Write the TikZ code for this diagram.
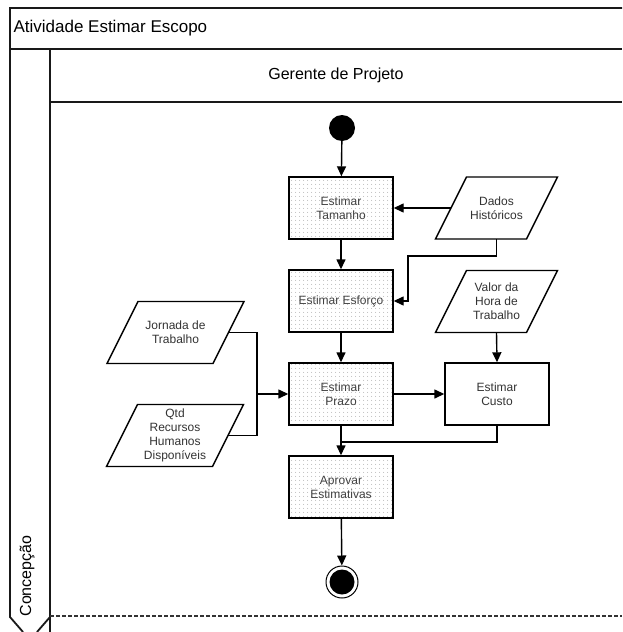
\documentclass[tikz,border=0pt]{standalone}
\usepackage{fontspec}
\setmainfont{Liberation Sans}
\usetikzlibrary{arrows.meta,patterns.meta}
\newcommand\iobox[5]{% name, x, y, half side, text
  \node[iotext] (#1) at (#2,#3) {#5};
  \draw[line width=1.4pt] ([shift={(-#4-15.5,31)}]#1.center) -- ([shift={(#4-15.5,31)}]#1.center)
    -- ([shift={(#4+15.5,-31)}]#1.center) -- ([shift={(-#4+15.5,-31)}]#1.center) -- cycle;
  \coordinate (#1L) at ([shift={(-#4,0)}]#1.center);
  \coordinate (#1R) at ([shift={(#4,0)}]#1.center);
}
\begin{document}
\begin{tikzpicture}[x=1pt,y=-1pt,
  arr/.style={-{Triangle[length=10pt,width=9pt]}, line width=1.4pt},
  conn/.style={line width=1.4pt},
  frame/.style={line width=1.8pt, black!90},
  actbase/.style={draw, line width=1.4pt, minimum width=104pt, minimum height=62pt,
    font=\fontsize{12}{14}\selectfont, align=center, inner sep=0pt},
  act/.style={actbase, preaction={fill=white}, pattern={Dots[distance=4pt,radius=0.5pt]},
    pattern color=gray!80, text=black!75},
  plain/.style={actbase, fill=white, text=black!80},
  iotext/.style={minimum width=60pt, minimum height=62pt, inner sep=0pt, align=center,
    font=\fontsize{12}{14}\selectfont, text=black!80}
]
\useasboundingbox (0,0) rectangle (622,632);
\fill[white] (0,0) rectangle (622,632);

% frame
\draw[frame] (622,8) -- (10,8) -- (10,617) -- (23,632);
\draw[frame] (10,49) -- (622,49);
\draw[frame] (50,49) -- (50,632);
\draw[frame] (50,102) -- (622,102);
\draw[frame] (50,617) -- (37,632);
\draw[line width=1.5pt, black!80, dash pattern=on 4pt off 2pt] (50,616) -- (622,616);

\node[anchor=west, font=\fontsize{17}{20}\selectfont] (title) at (10,28) {Atividade Estimar Escopo};
\node[font=\fontsize{16}{19}\selectfont] (lane) at (336,75) {Gerente de Projeto};
\node[rotate=90, font=\fontsize{16}{19}\selectfont] (phase) at (27,576) {Concepção};

% nodes
\node[circle, fill=black, minimum size=26pt, inner sep=0pt] (start) at (342,128) {};
\node[act] (tam) at (341,208) {Estimar\\Tamanho};
\node[act] (esf) at (341,301) {Estimar Esforço};
\node[act] (prazo) at (341,394) {Estimar\\Prazo};
\node[plain] (custo) at (497,394) {Estimar\\Custo};
\node[act] (aprov) at (341,487) {Aprovar\\Estimativas};
\node[circle, draw, line width=1pt, fill=white, minimum size=32pt, inner sep=0pt] (fin) at (342,582) {};
\fill[black] (fin.center) circle (12.5);

\iobox{dados}{496.5}{208}{45.5}{Dados\\Históricos}
\iobox{valor}{496.5}{301.5}{45.5}{Valor da\\Hora de\\Trabalho}
\iobox{jorn}{175.5}{332.5}{53}{Jornada de\\Trabalho}
\iobox{qtd}{175}{435.5}{53}{Qtd\\Recursos\\Humanos\\Disponíveis}

% connectors
\draw[arr] (start) -- (tam);
\draw[arr] (tam) -- (esf);
\draw[arr] (esf) -- (prazo);
\draw[arr] (prazo) -- (aprov);
\draw[arr] (aprov) -- (fin);
\draw[arr] (dadosL) -- (tam.east);
\coordinate (d1) at (408,256);
\draw[arr] (dados.south) |- (d1) |- (esf.east);
\draw[arr] (valor.south) -- (custo.north);
\draw[arr] (prazo.east) -- (custo.west);
\coordinate (c1) at (341,442);
\draw[conn] (custo.south) |- (c1);
\coordinate (j1) at (257,394);
\draw[conn] (jornR) -| (j1) |- (qtdR);
\draw[arr] (j1) -- (prazo.west);
\end{tikzpicture}
\end{document}
